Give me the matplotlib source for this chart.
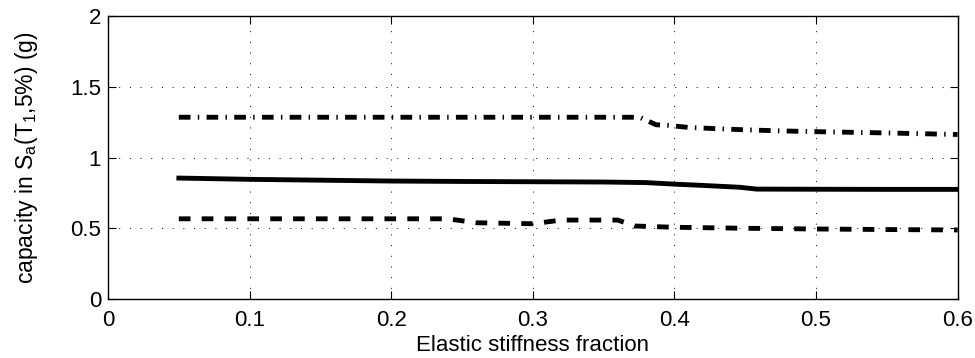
import matplotlib
matplotlib.use('Agg')
import matplotlib.pyplot as plt

plt.rcParams['font.family'] = ['Liberation Sans', 'DejaVu Sans']
plt.rcParams['mathtext.fontset'] = 'custom'
plt.rcParams['mathtext.rm'] = 'Liberation Sans'
plt.rcParams['mathtext.it'] = 'Liberation Sans'

# 84th percentile (dash-dot), median (solid), 16th percentile (dashed)
x_hi = [0.05, 0.10, 0.20, 0.30, 0.37, 0.376, 0.387, 0.395, 0.41, 0.43, 0.45, 0.47, 0.49, 0.50, 0.55, 0.60]
cap_hi = [1.285, 1.285, 1.285, 1.285, 1.285, 1.282, 1.232, 1.228, 1.213, 1.204, 1.196, 1.190, 1.185, 1.183, 1.174, 1.163]

x_med = [0.05, 0.10, 0.15, 0.20, 0.25, 0.30, 0.35, 0.38, 0.40, 0.42, 0.446, 0.458, 0.50, 0.55, 0.60]
cap_med = [0.855, 0.846, 0.840, 0.834, 0.831, 0.829, 0.827, 0.823, 0.812, 0.803, 0.790, 0.777, 0.776, 0.775, 0.775]

x_lo = [0.05, 0.10, 0.20, 0.24, 0.26, 0.30, 0.32, 0.36, 0.372, 0.40, 0.45, 0.50, 0.55, 0.60]
cap_lo = [0.567, 0.567, 0.567, 0.567, 0.539, 0.532, 0.558, 0.558, 0.516, 0.507, 0.500, 0.495, 0.491, 0.488]

xticks = [0, 0.1, 0.2, 0.3, 0.4, 0.5, 0.6]
yticks = [0, 0.5, 1, 1.5, 2]

fig = plt.figure(figsize=(9.75, 3.58), dpi=100)
ax = fig.add_axes([0.1108, 0.1648, 0.8714, 0.7902])

ax.plot(x_hi, cap_hi, color='k', lw=3.5, dashes=(2.4, 1.5, 0.3, 1.5))
ax.plot(x_med, cap_med, color='k', lw=3.5, solid_joinstyle='round')
ax.plot(x_lo, cap_lo, color='k', lw=3.5, dashes=(2.4, 2.3))

ax.set_xlim(0, 0.6)
ax.set_ylim(0, 2)
ax.set_xticks(xticks)
ax.set_yticks(yticks)
ax.set_xticklabels(['0', '0.1', '0.2', '0.3', '0.4', '0.5', '0.6'])
ax.set_yticklabels(['0', '0.5', '1', '1.5', '2'])
ax.grid(True, color='k', linestyle=(0, (1, 10)), linewidth=0.7)
ax.tick_params(direction='in', length=6, width=0.8, top=True, right=True, labelsize=16)
ax.tick_params(axis='x', pad=8)
ax.tick_params(axis='y', pad=5)
for s in ax.spines.values():
    s.set_linewidth(1.0)

ax.set_xlabel('Elastic stiffness fraction', fontsize=16, labelpad=3)
ax.set_ylabel(r'capacity in S$_\mathregular{a}$(T$_\mathregular{1}$,5%) (g)', fontsize=16.5, labelpad=22)

fig.savefig('out.png', dpi=100)
